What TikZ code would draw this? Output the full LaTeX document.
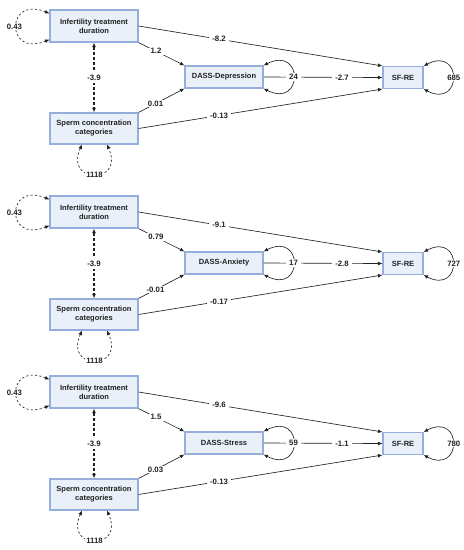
\documentclass[tikz,border=0pt]{standalone}
\usepackage{fontspec}
\setmainfont{Liberation Sans}
\usetikzlibrary{arrows.meta}
\definecolor{boxfill}{HTML}{E9F0FA}
\definecolor{boxdraw}{HTML}{95AEDC}
\definecolor{ink}{HTML}{222222}
\begin{document}
\begin{tikzpicture}[x=1pt,y=-1pt,
  var/.style={draw=boxdraw, fill=boxfill, line width=1.1pt, font=\fontsize{7.5}{9}\selectfont\bfseries, align=center, inner sep=0pt, text=ink},
  tip/.tip={Latex[length=4.5pt,width=3.8pt]},
  pathar/.style={draw=ink, line width=0.65pt, -tip},
  lbl/.style={fill=white, inner xsep=3pt, inner ysep=1pt, font=\fontsize{7.8}{9}\selectfont\bfseries, text=ink},
  loopv/.style={draw=ink, line width=0.65pt, tip-tip},
  dloop/.style={loopv, dash pattern=on 2.2pt off 2.2pt},
  cov/.style={draw=ink, line width=1.2pt, dash pattern=on 3pt off 2pt, tip-tip}
]
\useasboundingbox (0,0) rectangle (464,550);
\foreach \o/\p/\med/\a/\b/\c/\dd/\e/\r/\s in {%
  0/1/DASS-Depression/1.2/0.01/-8.2/-0.13/-2.7/24/685,
  186/2/DASS-Anxiety/0.79/-0.01/-9.1/-0.17/-2.8/17/727,
  366/3/DASS-Stress/1.5/0.03/-9.6/-0.13/-1.1/59/780}{
  \node[var, minimum width=88pt, minimum height=32pt] (inf\p) at (94,26+\o) {Infertility treatment\\duration};
  \node[var, minimum width=88pt, minimum height=31pt] (sp\p) at (94,128.5+\o) {Sperm concentration\\categories};
  \node[var, minimum width=78pt, minimum height=22pt] (d\p) at (224,77+\o) {\med};
  \node[var, minimum width=40pt, minimum height=22pt] (sf\p) at (403,77.5+\o) {SF-RE};
  % paths
  \draw[pathar] (inf\p.east) -- (sf\p.north west) node[lbl,pos=0.33]{\c};
  \draw[pathar] (sp\p.east) -- (sf\p.south west) node[lbl,pos=0.33]{\dd};
  \draw[pathar] (inf\p.south east) -- (d\p.north west) node[lbl,pos=0.38]{\a};
  \draw[pathar] (sp\p.north east) -- (d\p.south west) node[lbl,pos=0.37]{\b};
  \draw[pathar] (d\p.east) -- (sf\p.west) node[lbl,pos=0.66]{\e};
  % residual loops
  \draw[loopv] (d\p.north east) .. controls +(40,-20) and +(40,20) .. (d\p.south east) node[lbl,pos=0.5]{\r};
  \draw[loopv] (sf\p.north east) .. controls +(39,-20) and +(39,20) .. (sf\p.south east) node[lbl,pos=0.5,xshift=1pt]{\s};
  % variances and covariance
  \draw[dloop] ([yshift=-4pt]inf\p.north west) .. controls +(-44,-18) and +(-44,18) .. ([yshift=3pt]inf\p.south west) node[lbl,pos=0.5,xshift=-2pt,inner xsep=1pt]{0.43};
  \draw[dloop] ([xshift=-12pt]sp\p.south) .. controls +(-18,40) and +(18,40) .. ([xshift=13pt]sp\p.south) node[lbl,pos=0.5,inner xsep=1pt]{1118};
  \draw[cov] (inf\p.south) -- (sp\p.north) node[lbl,pos=0.5,inner ysep=3pt]{-3.9};
}
\end{tikzpicture}
\end{document}
